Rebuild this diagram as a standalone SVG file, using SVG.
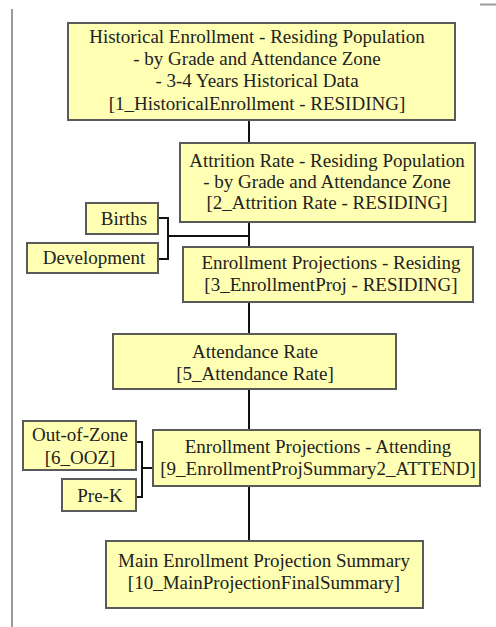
<svg xmlns="http://www.w3.org/2000/svg" width="496" height="627" viewBox="0 0 496 627" font-family="Liberation Serif, DejaVu Serif, serif">
<style>
.box{fill:#FFFFB3;stroke:#5a5a5a;stroke-width:2}
.t{font-family:'Liberation Serif','Times New Roman',serif;font-size:19px;fill:#222;text-anchor:middle}
.c{fill:none;stroke:#111;stroke-width:2}
.frame{stroke:#9a9a9a;stroke-width:2;fill:none}
</style>
<rect width="496" height="627" fill="#fff"/>
<line class="frame" x1="12" y1="9" x2="12" y2="627"/>
<line class="frame" x1="480" y1="4.5" x2="496" y2="4.5"/>
<g id="connectors">
<line class="c" x1="249" y1="120" x2="249" y2="143"/>
<line class="c" x1="249" y1="222" x2="249" y2="247"/>
<polyline class="c" points="158,218 168,218 168,259 158,259"/>
<line class="c" x1="168" y1="236" x2="249" y2="236"/>
<line class="c" x1="249" y1="302" x2="249" y2="334"/>
<line class="c" x1="249" y1="389" x2="249" y2="430"/>
<polyline class="c" points="136,442 142,442 142,497 136,497"/>
<line class="c" x1="142" y1="468" x2="153" y2="468"/>
<line class="c" x1="249" y1="486" x2="249" y2="541"/>
</g>
<g id="n1">
<rect class="box" x="68" y="23" width="387" height="97"/>
<text class="t" x="257" y="43">Historical Enrollment - Residing Population</text>
<text class="t" x="257" y="65">- by Grade and Attendance Zone</text>
<text class="t" x="257" y="87">- 3-4 Years Historical Data</text>
<text class="t" x="257" y="110">[1_HistoricalEnrollment - RESIDING]</text>
</g>
<g id="n2">
<rect class="box" x="180" y="143" width="295" height="79"/>
<text class="t" x="327" y="167">Attrition Rate - Residing Population</text>
<text class="t" x="327" y="188">- by Grade and Attendance Zone</text>
<text class="t" x="327" y="209">[2_Attrition Rate - RESIDING]</text>
</g>
<g id="births">
<rect class="box" x="86" y="203" width="72" height="31"/>
<text class="t" x="124" y="225">Births</text>
</g>
<g id="development">
<rect class="box" x="27" y="243" width="131" height="30"/>
<text class="t" x="94" y="264">Development</text>
</g>
<g id="n3">
<rect class="box" x="183" y="247" width="290" height="55"/>
<text class="t" x="331" y="269">Enrollment Projections - Residing</text>
<text class="t" x="331" y="291">[3_EnrollmentProj - RESIDING]</text>
</g>
<g id="n4">
<rect class="box" x="113" y="334" width="283" height="55"/>
<text class="t" x="255" y="358">Attendance Rate</text>
<text class="t" x="255" y="380">[5_Attendance Rate]</text>
</g>
<g id="ooz">
<rect class="box" x="23" y="421" width="113" height="49"/>
<text class="t" x="80" y="441">Out-of-Zone</text>
<text class="t" x="80" y="464">[6_OOZ]</text>
</g>
<g id="prek">
<rect class="box" x="62" y="479" width="74" height="32"/>
<text class="t" x="100" y="502">Pre-K</text>
</g>
<g id="n5">
<rect class="box" x="153" y="430" width="327" height="56"/>
<text class="t" x="318" y="453">Enrollment Projections - Attending</text>
<text class="t" x="318" y="475">[9_EnrollmentProjSummary2_ATTEND]</text>
</g>
<g id="n6">
<rect class="box" x="106" y="541" width="317" height="67"/>
<text class="t" x="264" y="567">Main Enrollment Projection Summary</text>
<text class="t" x="264" y="589">[10_MainProjectionFinalSummary]</text>
</g>
</svg>
